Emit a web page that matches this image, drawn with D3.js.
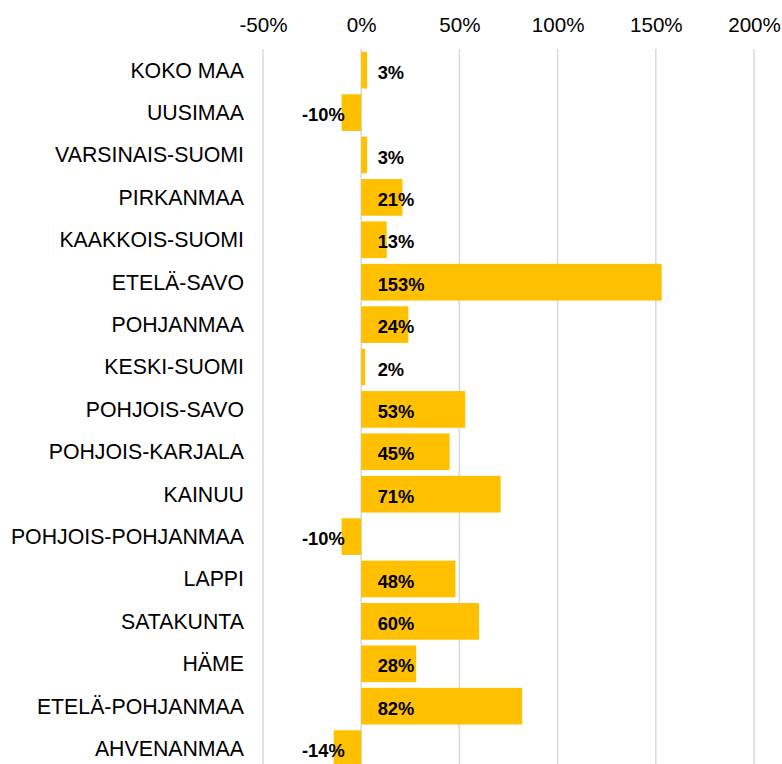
<!DOCTYPE html>
<html>
<head>
<meta charset="utf-8">
<script src="https://cdn.jsdelivr.net/npm/d3@7"></script>
<style>
  html, body { margin: 0; padding: 0; background: #fff; }
  svg { display: block; font-family: "Liberation Sans", Arial, sans-serif; }
</style>
</head>
<body>
<svg id="chart" width="782" height="764"></svg>
<script>
const categories = ["KOKO MAA","UUSIMAA","VARSINAIS-SUOMI","PIRKANMAA","KAAKKOIS-SUOMI","ETELÄ-SAVO","POHJANMAA","KESKI-SUOMI","POHJOIS-SAVO","POHJOIS-KARJALA","KAINUU","POHJOIS-POHJANMAA","LAPPI","SATAKUNTA","HÄME","ETELÄ-POHJANMAA","AHVENANMAA"];
const values = [3, -10, 3, 21, 13, 153, 24, 2, 53, 45, 71, -10, 48, 60, 28, 82, -14];
const tickValues = [-50, 0, 50, 100, 150, 200];

(function () {
const svg = d3.select("#chart");
const plotLeft = 263, plotRight = 754, plotTop = 49;
const step = 42.4;

const x = d3.scaleLinear().domain([-50, 200]).range([plotLeft, plotRight]);
const y = d3.scaleBand().domain(categories)
  .range([plotTop, plotTop + step * categories.length])
  .paddingInner(0.135).paddingOuter(0.0675);

// gridlines
svg.append("g").selectAll("line").data(tickValues).join("line")
  .attr("x1", d => x(d)).attr("x2", d => x(d))
  .attr("y1", plotTop).attr("y2", 764)
  .attr("stroke", "#d9d9d9").attr("stroke-width", 1.5);

// top axis labels
const axis = d3.axisTop(x).tickValues(tickValues).tickFormat(d => d + "%").tickSize(0).tickPadding(0);
const ag = svg.append("g").attr("transform", "translate(0,32)").call(axis);
ag.select(".domain").remove();
ag.selectAll("text").attr("font-size", "20.6px").attr("fill", "#000")
  .attr("font-family", "'Liberation Sans', Arial, sans-serif").attr("dy", 0);

// bars
svg.append("g").selectAll("rect").data(values).join("rect")
  .attr("x", d => x(Math.min(0, d)))
  .attr("width", d => Math.abs(x(d) - x(0)))
  .attr("y", (d, i) => y(categories[i]))
  .attr("height", y.bandwidth())
  .attr("fill", "#FFC000");

// category labels
svg.append("g").selectAll("text").data(categories).join("text")
  .attr("x", 244)
  .attr("y", d => y(d) + y.bandwidth() / 2 + 7.3)
  .attr("text-anchor", "end")
  .attr("font-size", "21.3px")
  .attr("fill", "#000")
  .text(d => d);

// value labels
svg.append("g").selectAll("text").data(values).join("text")
  .attr("x", d => d >= 0 ? x(0) + 16.5 : x(0) - 16.5)
  .attr("y", (d, i) => y(categories[i]) + y.bandwidth() / 2 + 8.5)
  .attr("text-anchor", d => d >= 0 ? "start" : "end")
  .attr("font-size", "18.3px")
  .attr("font-weight", "bold")
  .attr("fill", "#000")
  .text(d => d + "%");
})();
</script>
</body>
</html>
